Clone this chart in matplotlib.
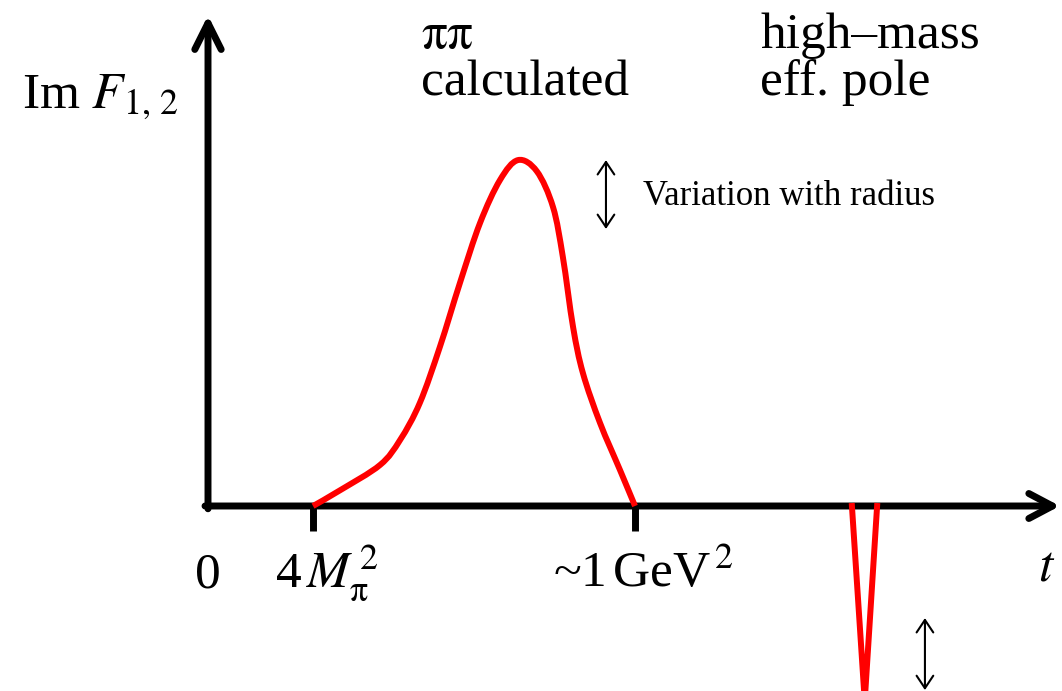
import matplotlib
matplotlib.use("Agg")
import matplotlib.pyplot as plt
from matplotlib.path import Path
from matplotlib.patches import PathPatch

plt.rcParams["font.family"] = ["Liberation Serif", "DejaVu Serif"]
plt.rcParams["mathtext.fontset"] = "stix"

# schematic spectral function: t in units where ~1 GeV^2 = 1, Im F peak ~ 1
t_curve = [0.246, 0.309, 0.403, 0.450, 0.496, 0.543, 0.590, 0.637, 0.684,
           0.726, 0.770, 0.808, 0.831, 0.855, 0.878, 0.918, 0.965, 1.0]
im_curve = [0.0, 0.045, 0.118, 0.190, 0.296, 0.457, 0.641, 0.813, 0.937,
            0.994, 0.962, 0.859, 0.716, 0.514, 0.382, 0.239, 0.103, 0.0]

# high-mass effective pole (narrow negative spike)
t_pole = [1.508, 1.538, 1.567]
im_pole = [0.0, -0.56, 0.0]

tick_pos = [0.246, 1.0]
tick_labels = [r"4$\,M_{\mathrm{\pi}}^{\,2}$", r"~1$\,$GeV$^{\,2}$"]


def smooth_path(xs, ys):
    # Catmull-Rom curve through the points, drawn as cubic Bezier segments
    pts = list(zip(xs, ys))
    verts = [pts[0]]
    codes = [Path.MOVETO]
    n = len(pts)
    for i in range(n - 1):
        p0 = pts[i - 1] if i > 0 else pts[i]
        p1 = pts[i]
        p2 = pts[i + 1]
        p3 = pts[i + 2] if i + 2 < n else pts[i + 1]
        c1 = (p1[0] + (p2[0] - p0[0]) / 6, p1[1] + (p2[1] - p0[1]) / 6)
        c2 = (p2[0] - (p3[0] - p1[0]) / 6, p2[1] - (p3[1] - p1[1]) / 6)
        verts += [c1, c2, p2]
        codes += [Path.CURVE4] * 3
    return Path(verts, codes)


fig = plt.figure(figsize=(10.62, 6.91), dpi=100)
ax = fig.add_axes([0, 0, 1, 1])
ax.set_xlim(-208 / 427, (1062 - 208) / 427)
ax.set_ylim((506 - 691) / 348, 506 / 348)
ax.axis("off")

big = 37

# axes with arrows
ax.annotate("", xy=(1.995, 0), xytext=(-0.007, 0),
            arrowprops=dict(arrowstyle="->,head_length=1.7,head_width=0.9",
                            lw=5, color="black", shrinkA=0, shrinkB=0,
                            mutation_scale=10))
ax.annotate("", xy=(0, 1.41), xytext=(0, -0.008),
            arrowprops=dict(arrowstyle="->,head_length=1.9,head_width=0.95",
                            lw=5, color="black", shrinkA=0, shrinkB=0,
                            mutation_scale=10))

# ticks
ax.vlines(tick_pos, -0.072, 0, color="black", lw=5)

# curves
ax.add_patch(PathPatch(smooth_path(t_curve, im_curve), facecolor="none",
                       edgecolor="red", lw=4.3, capstyle="butt",
                       joinstyle="round", zorder=3))
ax.plot(t_pole, im_pole, color="red", lw=4.3, solid_joinstyle="miter",
        zorder=3)

# variation arrows
ax.annotate("", xy=(0.932, 0.994), xytext=(0.932, 0.796),
            arrowprops=dict(arrowstyle="<->,head_length=0.9,head_width=0.6",
                            lw=1.5, color="black", shrinkA=0, shrinkB=0,
                            mutation_scale=10))
ax.annotate("", xy=(1.679, -0.322), xytext=(1.679, -0.529),
            arrowprops=dict(arrowstyle="<->,head_length=0.9,head_width=0.6",
                            lw=1.5, color="black", shrinkA=0, shrinkB=0,
                            mutation_scale=10))

# labels
ax.text(-0.436, 1.144, r"Im $F_{1,\,2}$", fontsize=big, va="baseline")
ax.text(0.499, 1.316, r"$\mathrm{\pi\pi}$", fontsize=big, va="baseline")
ax.text(0.499, 1.181, "calculated", fontsize=big, va="baseline")
ax.text(1.293, 1.316, "high–mass", fontsize=big, va="baseline")
ax.text(1.293, 1.181, "eff. pole", fontsize=big, va="baseline")
ax.text(1.019, 0.865, "Variation with radius", fontsize=25, va="baseline")

ax.text(0, -0.233, "0", fontsize=big, ha="center", va="baseline")
ax.text(0.157, -0.233, tick_labels[0], fontsize=big, ha="left", va="baseline")
ax.text(0.809, -0.233, tick_labels[1], fontsize=big, ha="left", va="baseline")
ax.text(1.984, -0.213, r"$t$", fontsize=big, ha="right", va="baseline")

fig.savefig("out.png", dpi=100)
